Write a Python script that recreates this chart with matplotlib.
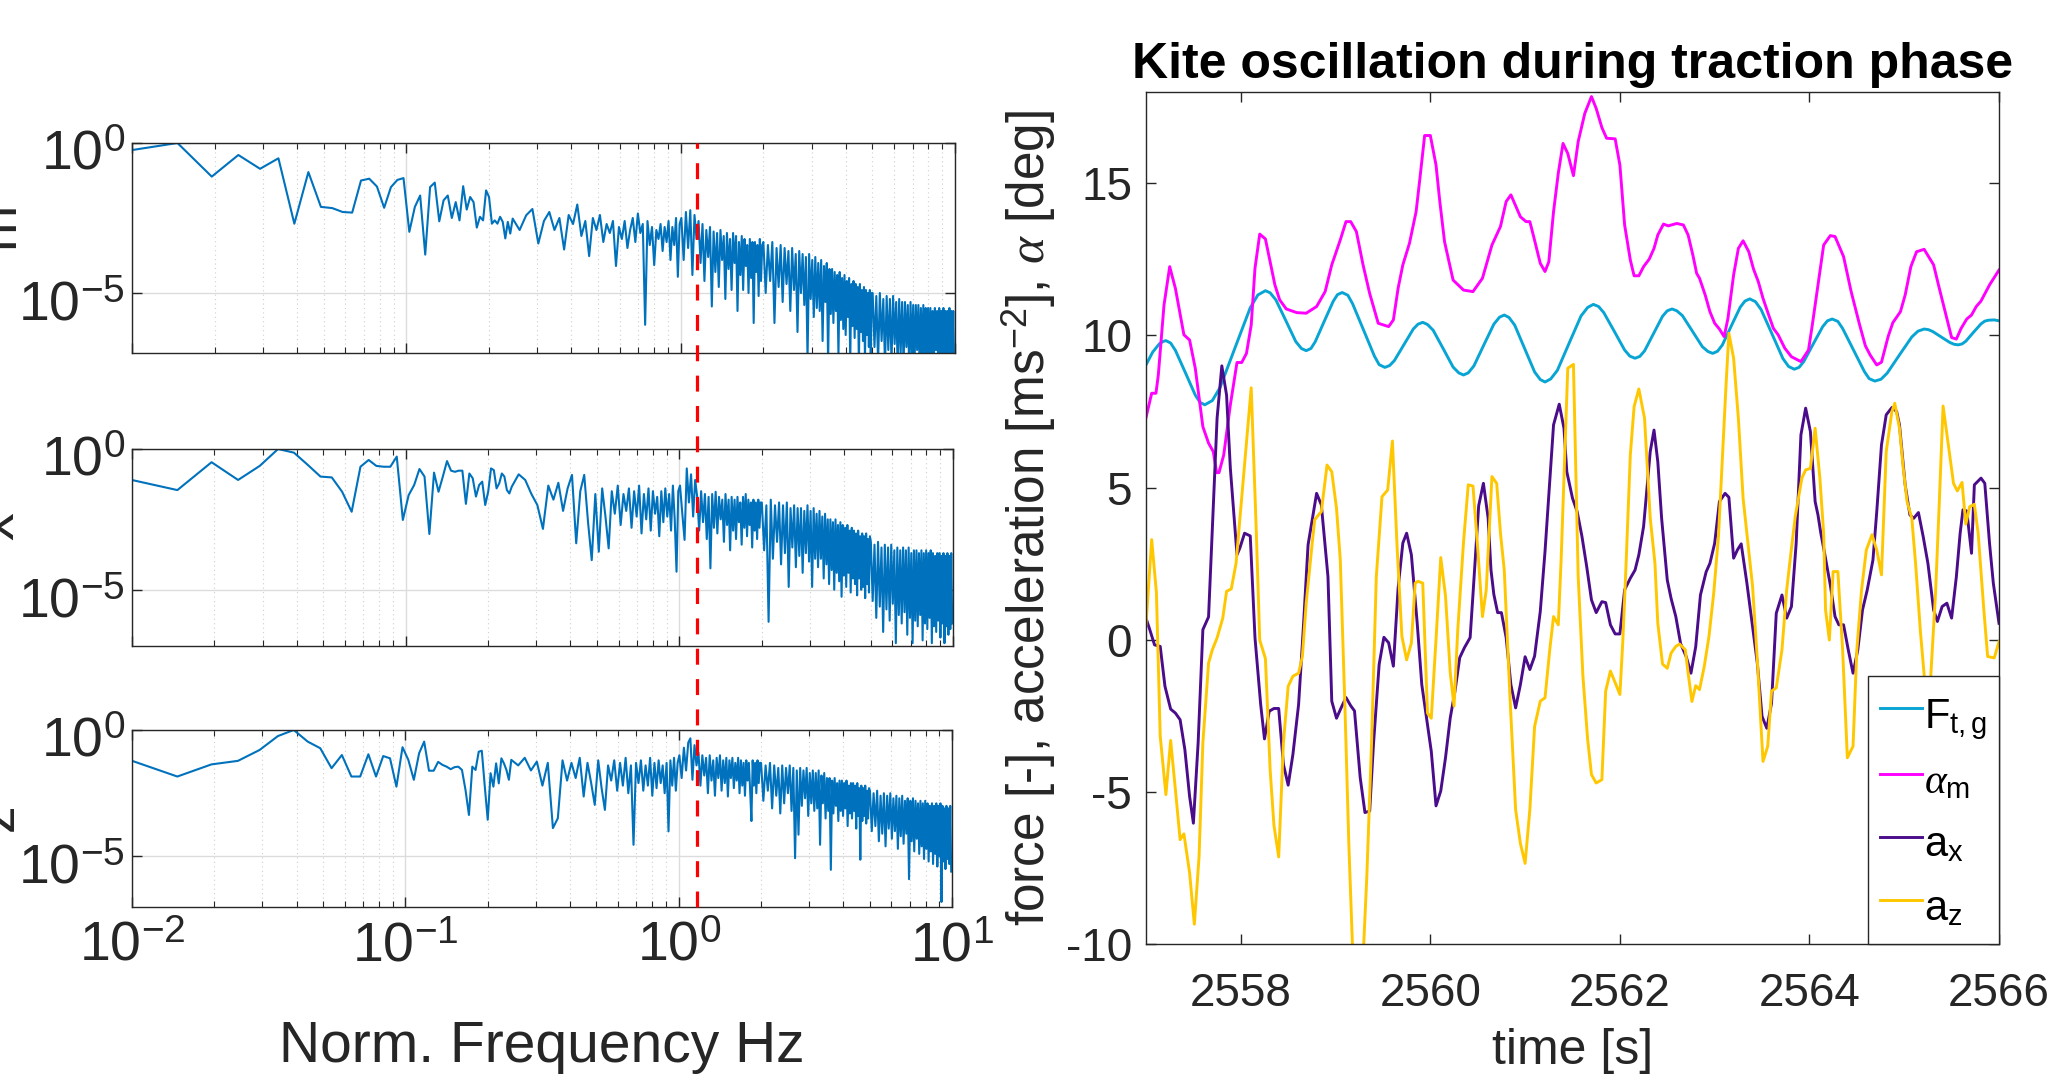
import numpy as np
import matplotlib
matplotlib.use('Agg')
import matplotlib.pyplot as plt
from matplotlib.lines import Line2D
from matplotlib import transforms
from matplotlib.ticker import FixedLocator, FixedFormatter, NullLocator, NullFormatter

plt.rcParams['font.family'] = ['Liberation Sans', 'DejaVu Sans']
plt.rcParams['mathtext.fontset'] = 'custom'
plt.rcParams['mathtext.rm'] = 'Liberation Sans'
plt.rcParams['mathtext.it'] = 'Liberation Serif:italic'
plt.rcParams['mathtext.bf'] = 'Liberation Sans:bold'
plt.rcParams['axes.unicode_minus'] = False

# ---------------- spectra (log10 of normalised amplitude) ----------------
df = 20 / 4096   # bin width [Hz]
f_mark = 1.15    # red marker frequency [Hz]

# bins 2..49, bins 50.. step 3, then 1-2 Hz step 4, 2-5 Hz step 8, 5-10 Hz step 16
psd_m_low = [-0.25, 0.0, -1.12, -0.40, -0.86, -0.51, -2.69, -0.97, -2.13, -2.17,
             -2.30, -2.32, -1.25, -1.19, -1.45, -2.16, -1.47, -1.23, -1.17, -2.96,
             -2.13, -1.75, -3.72, -1.47, -1.32, -2.61, -1.91, -1.75, -2.50, -1.97,
             -2.58, -1.44, -2.22, -1.80, -1.97, -2.82, -2.46, -2.58, -1.58, -1.80,
             -2.69, -2.58, -2.69, -2.46, -2.63, -3.18, -2.63, -3.02]
psd_m_mid = [-2.52, -2.9, -2.41, -2.2, -3.35, -2.6, -2.3, -2.9, -2.5, -3.55,
             -2.4, -2.7, -2.05, -3.1, -2.6, -3.77, -2.5, -2.9, -2.4, -3.3,
             -2.7, -3.0, -2.6, -4.1, -2.8, -3.2, -2.6, -3.5, -2.9, -2.5,
             -3.3, -2.35, -3.0, -2.7, -6.06, -2.6, -3.4, -2.8, -4.07, -2.9,
             -3.2, -2.7, -3.6, -2.8, -3.3, -2.6, -3.9, -2.8, -3.4, -2.5, -4.46, -2.7]
psd_m_hi1 = [-2.5, -3.9, -2.3, -3.5, -2.24, -4.4, -2.4, -3.2, -2.6, -4.0,
             -2.7, -4.6, -2.9, -3.8, -2.8, -5.45, -2.95, -4.3, -3.0, -4.8,
             -2.9, -3.9, -3.1, -5.2, -3.0, -4.2, -3.2, -4.9, -3.0, -4.0,
             -3.1, -5.6, -3.3, -4.4, -3.1, -4.9, -3.2, -4.1, -3.4, -5.0,
             -3.2, -4.5, -3.3, -6.0, -3.3, -4.3, -3.4, -5.1, -3.2, -4.6, -3.4]
psd_m_hi2 = [-3.3, -5.0, -3.4, -4.6, -3.3, -6.0, -3.5, -4.8, -3.4, -5.3,
             -3.5, -4.7, -3.6, -5.6, -3.5, -4.9, -3.7, -6.3, -3.6, -5.0,
             -3.7, -5.4, -3.8, -7.2, -3.7, -5.2, -3.9, -5.8, -3.8, -5.5,
             -4.0, -5.6, -3.9, -6.6, -4.1, -5.3, -4.0, -7.3, -4.2, -5.7,
             -4.2, -6.0, -4.3, -5.6, -4.4, -7.1, -4.3, -5.9, -4.5, -6.2,
             -4.4, -6.4, -4.6, -5.8, -4.5, -7.3, -4.7, -6.1, -4.6, -6.5,
             -4.7, -6.2, -4.8, -7.4, -4.7, -6.3, -4.9, -6.6, -4.8, -7.2,
             -4.9, -6.4, -5.0, -6.8, -4.9, -7.3, -5.0]
psd_m_hi3 = [-5.0, -6.8, -5.1, -7.3, -5.0, -6.6, -5.2, -7.4, -5.1, -6.9,
             -5.2, -7.3, -5.1, -6.7, -5.3, -7.5, -5.2, -7.0, -5.3, -7.4,
             -5.3, -6.8, -5.4, -7.5, -5.3, -7.1, -5.4, -7.4, -5.4, -6.9,
             -5.4, -7.5, -5.5, -7.2, -5.4, -7.5, -5.5, -7.0, -5.5, -7.4,
             -5.5, -7.2, -5.6, -7.5, -5.5, -6.9, -5.6, -7.4, -5.5, -7.5,
             -5.6, -7.1, -5.5, -7.5, -5.6, -7.3, -5.6, -7.0, -5.5, -7.5,
             -5.6, -7.2, -5.6, -7.5]

psd_x_low = [-1.08, -1.46, -0.47, -1.10, -0.60, 0.0, -0.13, -0.57, -0.98, -1.01,
             -1.52, -2.23, -0.63, -0.39, -0.60, -0.63, -0.63, -0.27, -2.52, -1.64,
             -1.28, -0.71, -0.98, -3.02, -0.84, -1.52, -0.98, -0.43, -0.77, -0.81,
             -0.77, -0.77, -1.95, -0.87, -1.04, -1.69, -1.28, -1.16, -1.99, -1.52,
             -0.69, -0.75, -1.40, -1.22, -0.87, -0.98, -1.46, -1.58]
psd_x_mid = [-1.34, -0.9, -1.1, -1.6, -1.99, -2.84, -1.3, -1.8, -1.2, -2.2,
             -1.4, -0.92, -3.35, -1.5, -0.92, -2.6, -3.95, -1.6, -3.65, -1.4,
             -2.4, -3.53, -1.5, -2.3, -1.3, -2.7, -1.6, -2.2, -1.4, -2.8,
             -1.5, -2.4, -1.3, -3.0, -1.6, -2.5, -1.4, -2.9, -1.5, -2.3,
             -1.7, -3.1, -1.5, -2.6, -1.4, -2.4, -1.6, -2.9, -1.3, -2.5, -4.36, -1.5]
psd_x_hi1 = [-1.3, -2.3, -3.23, -0.69, -1.9, -0.9, -2.4, -1.1, -1.7, -2.9,
             -1.5, -2.6, -1.6, -3.2, -1.7, -4.24, -1.6, -2.8, -1.52, -3.0,
             -1.7, -2.5, -1.8, -3.3, -1.6, -2.7, -1.8, -3.6, -1.7, -2.9,
             -1.8, -3.2, -1.7, -2.6, -1.9, -3.4, -1.7, -2.8, -1.6, -3.1,
             -1.8, -2.7, -1.9, -3.5, -1.8, -2.9, -1.9, -3.2, -1.8, -2.8, -1.9]
psd_x_hi2 = [-1.9, -3.6, -2.0, -6.14, -1.8, -3.9, -2.0, -3.3, -1.9, -4.1,
             -2.0, -3.7, -1.9, -4.9, -2.1, -3.5, -2.0, -4.2, -2.1, -3.8,
             -2.1, -4.4, -2.2, -3.7, -2.0, -4.0, -2.2, -4.9, -2.1, -3.9,
             -2.3, -4.2, -2.2, -3.9, -2.4, -4.6, -2.3, -4.1, -2.5, -4.8,
             -2.5, -4.3, -2.6, -5.0, -2.5, -4.4, -2.7, -4.7, -2.6, -5.25,
             -2.7, -4.5, -2.8, -4.9, -2.7, -4.4, -2.9, -5.1, -2.8, -4.6,
             -2.9, -4.8, -3.0, -5.2, -2.9, -4.6, -3.1, -5.0, -3.0, -4.9,
             -3.1, -5.3, -3.0, -4.8, -3.2, -5.1, -3.1]
psd_x_hi3 = [-3.3, -5.4, -3.4, -6.0, -3.3, -5.6, -3.5, -6.5, -3.4, -5.7,
             -3.5, -6.1, -3.4, -5.5, -3.6, -6.9, -3.5, -5.9, -3.6, -6.2,
             -3.5, -5.8, -3.6, -6.6, -3.5, -6.0, -3.7, -6.9, -3.6, -6.1,
             -3.6, -6.3, -3.7, -5.9, -3.6, -6.8, -3.7, -6.2, -3.6, -6.4,
             -3.7, -6.0, -3.6, -6.9, -3.7, -6.3, -3.8, -6.5, -3.7, -6.1,
             -3.7, -6.7, -3.8, -6.2, -3.7, -6.9, -3.8, -6.3, -3.7, -6.6,
             -3.8, -6.4, -3.7, -6.2]

psd_z_low = [-1.18, -1.84, -1.36, -1.22, -0.79, -0.24, 0.0, -0.46, -0.72, -1.51,
             -0.99, -1.84, -1.84, -0.96, -1.84, -1.03, -1.12, -2.24, -0.68, -1.18,
             -1.97, -0.92, -0.46, -1.61, -1.61, -1.26, -1.38, -1.45, -1.55, -1.47,
             -1.45, -1.58, -2.37, -3.36, -1.45, -1.58, -0.86, -0.82, -2.24, -3.55,
             -1.71, -2.24, -1.32, -2.11, -1.12, -1.32, -1.58, -1.97]
psd_z_mid = [-1.18, -1.4, -1.1, -1.6, -1.25, -2.2, -1.3, -3.88, -3.49, -1.2,
             -2.0, -1.3, -1.9, -1.1, -2.63, -1.3, -2.1, -2.96, -1.2, -2.3,
             -3.16, -1.4, -2.0, -1.2, -2.4, -1.3, -2.2, -1.1, -2.5, -1.4,
             -4.54, -1.3, -2.1, -1.2, -2.4, -1.4, -2.2, -1.1, -2.6, -1.3,
             -2.3, -1.2, -2.1, -1.4, -2.5, -1.3, -4.01, -1.2, -2.2, -1.1, -2.4, -1.3]
psd_z_hi1 = [-1.0, -1.9, -0.7, -1.6, -0.5, -0.33, -1.97, -0.6, -1.4, -0.9,
             -2.2, -1.0, -1.8, -1.1, -2.5, -1.0, -2.0, -1.2, -2.6, -1.1,
             -1.9, -1.0, -2.4, -1.2, -2.1, -1.1, -2.63, -1.2, -1.9, -1.1,
             -2.3, -1.3, -2.0, -1.1, -2.5, -1.2, -2.2, -1.3, -2.6, -1.2,
             -2.0, -1.3, -2.4, -3.6, -1.2, -2.2, -1.3, -2.5, -1.2, -2.1, -1.3]
psd_z_hi2 = [-1.3, -2.8, -1.4, -2.4, -1.3, -3.1, -1.4, -2.6, -1.5, -3.3,
             -1.4, -2.9, -1.5, -2.5, -1.4, -3.2, -1.5, -5.07, -1.6, -4.14,
             -1.5, -3.0, -1.6, -2.7, -1.5, -3.4, -1.7, -2.9, -1.6, -3.2,
             -1.7, -3.1, -1.6, -4.54, -1.8, -2.9, -1.7, -3.5, -1.9, -3.2,
             -1.9, -5.53, -2.0, -3.3, -1.9, -3.0, -2.1, -3.6, -2.0, -3.2,
             -2.0, -3.4, -2.1, -3.1, -2.0, -3.8, -2.2, -3.3, -2.1, -3.5,
             -2.1, -3.2, -2.2, -3.9, -2.1, -3.4, -2.3, -5.13, -2.2, -3.6,
             -2.3, -3.4, -2.2, -3.7, -2.4, -3.5, -2.3]
psd_z_hi3 = [-2.4, -4.0, -2.5, -3.8, -2.4, -4.4, -2.6, -4.1, -2.5, -4.6,
             -2.6, -3.9, -2.5, -4.3, -2.7, -4.0, -2.6, -4.7, -2.7, -4.2,
             -2.6, -4.5, -2.8, -4.1, -2.7, -5.9, -2.8, -4.4, -2.7, -4.8,
             -2.8, -4.3, -2.9, -4.9, -2.8, -4.6, -2.9, -5.1, -2.8, -4.7,
             -2.9, -5.2, -3.0, -4.8, -2.9, -5.3, -3.0, -4.9, -2.9, -5.4,
             -3.0, -5.0, -2.9, -6.8, -3.0, -5.2, -3.1, -5.5, -3.0, -5.1,
             -3.1, -5.3, -3.0, -5.6]

# ---------------- time series ----------------
t_force = [2557.00, 2557.07, 2557.14, 2557.18, 2557.21, 2557.26, 2557.31, 2557.415, 2557.52, 2557.57,
           2557.62, 2557.70, 2557.78, 2557.94, 2558.10, 2558.18, 2558.26, 2558.31, 2558.37, 2558.475,
           2558.58, 2558.64, 2558.69, 2558.74, 2558.785, 2558.88, 2558.975, 2559.02, 2559.07, 2559.13,
           2559.18, 2559.295, 2559.41, 2559.46, 2559.52, 2559.57, 2559.62, 2559.72, 2559.82, 2559.87,
           2559.92, 2559.97, 2560.03, 2560.135, 2560.24, 2560.30, 2560.35, 2560.40, 2560.46, 2560.565,
           2560.67, 2560.73, 2560.78, 2560.83, 2560.89, 2560.995, 2561.10, 2561.16, 2561.21, 2561.27,
           2561.34, 2561.465, 2561.59, 2561.66, 2561.72, 2561.775, 2561.83, 2561.94, 2562.05, 2562.105,
           2562.16, 2562.21, 2562.26, 2562.355, 2562.45, 2562.50, 2562.55, 2562.60, 2562.66, 2562.765,
           2562.87, 2562.93, 2562.98, 2563.03, 2563.08, 2563.175, 2563.27, 2563.32, 2563.37, 2563.43,
           2563.49, 2563.605, 2563.72, 2563.78, 2563.84, 2563.89, 2563.94, 2564.04, 2564.14, 2564.19,
           2564.24, 2564.30, 2564.35, 2564.465, 2564.58, 2564.63, 2564.69, 2564.755, 2564.82, 2564.95,
           2565.08, 2565.145, 2565.21, 2565.255, 2565.30, 2565.39, 2565.48, 2565.525, 2565.57, 2565.61,
           2565.65, 2565.73, 2565.81, 2565.85, 2565.89, 2565.95, 2566.00]
v_force = [9.03, 9.45, 9.72, 9.80, 9.83, 9.75, 9.51, 8.78, 8.04, 7.80,
           7.72, 7.86, 8.28, 9.60, 10.91, 11.33, 11.47, 11.40, 11.17, 10.49,
           9.80, 9.57, 9.50, 9.57, 9.79, 10.46, 11.12, 11.34, 11.41, 11.32,
           11.04, 10.18, 9.32, 9.04, 8.95, 9.01, 9.17, 9.69, 10.21, 10.37,
           10.43, 10.36, 10.17, 9.57, 8.96, 8.77, 8.70, 8.77, 9.00, 9.69,
           10.37, 10.60, 10.67, 10.59, 10.34, 9.57, 8.80, 8.55, 8.47, 8.57,
           8.85, 9.75, 10.64, 10.92, 11.02, 10.95, 10.75, 10.14, 9.52, 9.32,
           9.25, 9.31, 9.49, 10.06, 10.63, 10.81, 10.87, 10.81, 10.65, 10.14,
           9.63, 9.47, 9.41, 9.48, 9.68, 10.31, 10.93, 11.13, 11.20, 11.11,
           10.85, 10.05, 9.24, 8.98, 8.89, 8.95, 9.14, 9.72, 10.29, 10.48,
           10.54, 10.46, 10.23, 9.52, 8.81, 8.58, 8.50, 8.56, 8.76, 9.36,
           9.95, 10.14, 10.21, 10.19, 10.13, 9.95, 9.77, 9.71, 9.69, 9.72,
           9.81, 10.10, 10.38, 10.47, 10.50, 10.51, 10.48]

t_alpha = [2557.00, 2557.06, 2557.105, 2557.13, 2557.19, 2557.25, 2557.31, 2557.40, 2557.46, 2557.52,
           2557.60, 2557.66, 2557.71, 2557.745, 2557.77, 2557.82, 2557.89, 2557.96, 2558.01, 2558.06,
           2558.11, 2558.15, 2558.20, 2558.26, 2558.31, 2558.36, 2558.41, 2558.48, 2558.59, 2558.69,
           2558.80, 2558.89, 2558.96, 2559.05, 2559.11, 2559.16, 2559.22, 2559.29, 2559.36, 2559.45,
           2559.56, 2559.61, 2559.66, 2559.71, 2559.78, 2559.85, 2559.89, 2559.94, 2560.00, 2560.06,
           2560.10, 2560.15, 2560.24, 2560.35, 2560.45, 2560.55, 2560.65, 2560.74, 2560.80, 2560.85,
           2560.95, 2561.01, 2561.05, 2561.09, 2561.16, 2561.21, 2561.25, 2561.30, 2561.35, 2561.40,
           2561.45, 2561.51, 2561.56, 2561.63, 2561.70, 2561.75, 2561.81, 2561.86, 2561.95, 2562.00,
           2562.05, 2562.11, 2562.15, 2562.20, 2562.25, 2562.31, 2562.36, 2562.40, 2562.46, 2562.51,
           2562.60, 2562.67, 2562.72, 2562.77, 2562.81, 2562.84, 2562.90, 2562.95, 2563.00, 2563.05,
           2563.10, 2563.14, 2563.20, 2563.25, 2563.30, 2563.36, 2563.41, 2563.46, 2563.51, 2563.57,
           2563.62, 2563.67, 2563.74, 2563.81, 2563.91, 2563.99, 2564.03, 2564.09, 2564.15, 2564.22,
           2564.27, 2564.36, 2564.44, 2564.53, 2564.59, 2564.64, 2564.71, 2564.76, 2564.83, 2564.88,
           2564.96, 2565.01, 2565.07, 2565.13, 2565.21, 2565.31, 2565.37, 2565.45, 2565.50, 2565.55,
           2565.60, 2565.66, 2565.71, 2565.76, 2565.81, 2565.90, 2566.00]
v_alpha = [7.30, 8.10, 8.10, 8.70, 11.00, 12.26, 11.55, 10.02, 9.85, 8.92,
           7.00, 6.46, 6.18, 5.49, 5.49, 6.07, 7.72, 9.11, 9.11, 9.41,
           10.34, 12.21, 13.33, 13.17, 12.42, 11.66, 11.17, 10.87, 10.75, 10.73,
           10.95, 11.44, 12.32, 13.14, 13.74, 13.74, 13.41, 12.32, 11.38, 10.40,
           10.29, 10.51, 11.55, 12.32, 13.03, 14.07, 15.16, 16.57, 16.57, 15.60,
           14.40, 13.08, 11.82, 11.49, 11.44, 11.88, 12.97, 13.58, 14.40, 14.62,
           13.90, 13.74, 13.74, 13.25, 12.37, 12.10, 12.42, 14.07, 15.33, 16.31,
           15.98, 15.25, 16.37, 17.30, 17.85, 17.46, 16.83, 16.48, 16.46, 15.60,
           13.63, 12.48, 11.96, 11.96, 12.26, 12.51, 12.86, 13.30, 13.66, 13.60,
           13.68, 13.63, 13.30, 12.64, 12.04, 11.88, 11.33, 10.78, 10.40, 10.21,
           9.96, 10.56, 11.99, 12.86, 13.11, 12.75, 12.18, 11.77, 11.22, 10.67,
           10.23, 10.02, 9.58, 9.30, 9.14, 9.52, 10.34, 11.66, 12.97, 13.28,
           13.25, 12.59, 11.44, 10.34, 9.66, 9.36, 9.03, 9.12, 9.96, 10.42,
           10.78, 11.33, 12.26, 12.75, 12.83, 12.32, 11.55, 10.56, 9.93, 9.88,
           10.23, 10.54, 10.67, 10.95, 11.13, 11.66, 12.15]

t_ax = [2557.00, 2557.04, 2557.09, 2557.15, 2557.20, 2557.26, 2557.31, 2557.36, 2557.41, 2557.46,
        2557.50, 2557.55, 2557.60, 2557.66, 2557.75, 2557.80, 2557.85, 2557.89, 2557.96, 2557.99,
        2558.04, 2558.10, 2558.15, 2558.21, 2558.25, 2558.30, 2558.35, 2558.40, 2558.45, 2558.50,
        2558.55, 2558.61, 2558.66, 2558.71, 2558.80, 2558.85, 2558.92, 2558.96, 2559.01, 2559.06,
        2559.11, 2559.16, 2559.20, 2559.26, 2559.31, 2559.36, 2559.40, 2559.46, 2559.51, 2559.56,
        2559.61, 2559.66, 2559.71, 2559.75, 2559.80, 2559.86, 2559.91, 2559.96, 2560.01, 2560.06,
        2560.11, 2560.16, 2560.21, 2560.26, 2560.31, 2560.36, 2560.42, 2560.45, 2560.51, 2560.56,
        2560.61, 2560.64, 2560.67, 2560.71, 2560.75, 2560.80, 2560.85, 2560.90, 2560.95, 2561.00,
        2561.05, 2561.10, 2561.16, 2561.21, 2561.30, 2561.36, 2561.41, 2561.44, 2561.50, 2561.55,
        2561.60, 2561.65, 2561.70, 2561.75, 2561.81, 2561.85, 2561.90, 2561.95, 2562.00, 2562.05,
        2562.11, 2562.16, 2562.20, 2562.25, 2562.32, 2562.36, 2562.40, 2562.44, 2562.50, 2562.54,
        2562.59, 2562.64, 2562.70, 2562.75, 2562.80, 2562.85, 2562.91, 2562.95, 2563.00, 2563.05,
        2563.11, 2563.15, 2563.20, 2563.24, 2563.28, 2563.34, 2563.40, 2563.45, 2563.50, 2563.55,
        2563.60, 2563.65, 2563.71, 2563.76, 2563.81, 2563.86, 2563.91, 2563.96, 2564.01, 2564.06,
        2564.09, 2564.12, 2564.16, 2564.22, 2564.27, 2564.31, 2564.36, 2564.41, 2564.46, 2564.51,
        2564.56, 2564.61, 2564.67, 2564.71, 2564.76, 2564.81, 2564.87, 2564.92, 2564.95, 2565.01,
        2565.06, 2565.10, 2565.15, 2565.20, 2565.25, 2565.31, 2565.35, 2565.40, 2565.45, 2565.50,
        2565.55, 2565.59, 2565.62, 2565.66, 2565.71, 2565.74, 2565.81, 2565.85, 2565.90, 2565.94,
        2566.00]
v_ax = [0.71, 0.33, -0.17, -0.22, -1.53, -2.28, -2.41, -2.63, -3.61, -5.15,
        -6.03, -3.39, 0.33, 0.75, 7.28, 9.00, 8.04, 5.63, 2.79, 3.01,
        3.50, 3.41, 0.06, -2.13, -3.26, -2.35, -2.26, -2.26, -4.10, -4.78,
        -3.77, -2.13, 0.39, 3.12, 4.81, 4.43, 2.07, -2.02, -2.58, -2.23,
        -1.90, -2.17, -2.34, -4.53, -5.68, -5.63, -3.44, -0.81, 0.08, -0.10,
        -0.87, 1.70, 3.18, 3.50, 2.79, 0.60, -1.48, -2.57, -3.67, -5.46,
        -4.97, -3.88, -2.57, -1.69, -0.59, -0.26, 0.07, 1.49, 4.40, 5.14,
        3.99, 2.29, 1.49, 0.89, 0.89, 0.07, -1.48, -2.24, -1.48, -0.56,
        -0.98, -0.54, 0.93, 2.90, 7.06, 7.74, 6.95, 5.52, 4.65, 4.20,
        3.39, 2.40, 1.31, 0.89, 1.25, 1.22, 0.49, 0.19, 0.19, 1.64,
        2.02, 2.29, 2.79, 3.72, 6.18, 6.89, 5.85, 4.00, 1.96, 1.36,
        0.76, -0.12, -0.56, -1.10, -0.23, 1.47, 2.23, 2.51, 3.17, 4.54,
        4.81, 4.68, 2.68, 2.95, 3.15, 1.86, 0.43, -0.77, -2.52, -2.91,
        -2.09, 0.87, 1.47, 0.71, 1.09, 3.17, 6.73, 7.61, 6.84, 4.54,
        4.10, 3.50, 2.84, 1.80, 0.76, 0.49, 0.49, -0.34, -1.10, -0.34,
        0.98, 1.64, 2.62, 4.20, 6.40, 7.39, 7.63, 7.50, 7.06, 5.09,
        4.10, 3.99, 4.18, 3.39, 2.51, 0.98, 0.60, 1.09, 1.20, 0.71,
        2.07, 3.50, 4.27, 4.23, 2.84, 5.09, 5.31, 5.14, 3.17, 1.86,
        0.54]

t_az = [2557.00, 2557.06, 2557.11, 2557.15, 2557.21, 2557.26, 2557.31, 2557.36, 2557.40, 2557.46,
        2557.51, 2557.56, 2557.60, 2557.66, 2557.70, 2557.75, 2557.81, 2557.85, 2557.90, 2557.95,
        2558.00, 2558.11, 2558.16, 2558.20, 2558.26, 2558.31, 2558.35, 2558.40, 2558.45, 2558.50,
        2558.55, 2558.61, 2558.65, 2558.69, 2558.75, 2558.78, 2558.82, 2558.85, 2558.91, 2558.96,
        2559.01, 2559.05, 2559.10, 2559.14, 2559.18, 2559.29, 2559.33, 2559.38, 2559.43, 2559.49,
        2559.55, 2559.60, 2559.65, 2559.70, 2559.75, 2559.80, 2559.84, 2559.87, 2559.92, 2559.97,
        2560.01, 2560.06, 2560.11, 2560.16, 2560.21, 2560.25, 2560.29, 2560.35, 2560.40, 2560.45,
        2560.50, 2560.55, 2560.59, 2560.65, 2560.70, 2560.74, 2560.78, 2560.84, 2560.90, 2560.95,
        2561.00, 2561.05, 2561.10, 2561.16, 2561.21, 2561.26, 2561.30, 2561.35, 2561.38, 2561.45,
        2561.51, 2561.56, 2561.61, 2561.66, 2561.70, 2561.75, 2561.81, 2561.85, 2561.90, 2561.95,
        2562.00, 2562.03, 2562.06, 2562.11, 2562.15, 2562.20, 2562.26, 2562.29, 2562.32, 2562.37,
        2562.40, 2562.45, 2562.50, 2562.54, 2562.59, 2562.63, 2562.69, 2562.72, 2562.76, 2562.80,
        2562.84, 2562.89, 2562.94, 2562.99, 2563.04, 2563.12, 2563.15, 2563.20, 2563.25, 2563.30,
        2563.35, 2563.40, 2563.45, 2563.51, 2563.56, 2563.60, 2563.65, 2563.71, 2563.76, 2563.80,
        2563.85, 2563.92, 2563.96, 2564.01, 2564.06, 2564.11, 2564.15, 2564.17, 2564.21, 2564.25,
        2564.30, 2564.35, 2564.40, 2564.46, 2564.50, 2564.55, 2564.60, 2564.66, 2564.71, 2564.76,
        2564.81, 2564.87, 2564.90, 2564.95, 2564.99, 2565.03, 2565.08, 2565.12, 2565.17, 2565.22,
        2565.28, 2565.33, 2565.37, 2565.41, 2565.47, 2565.52, 2565.56, 2565.61, 2565.65, 2565.69,
        2565.74, 2565.78, 2565.84, 2565.88, 2565.95, 2566.00]
v_az = [0.49, 3.29, 1.54, -3.17, -5.09, -3.31, -4.92, -6.57, -6.38, -7.66,
        -9.35, -7.12, -3.39, -0.77, -0.33, 0.06, 0.71, 1.59, 1.67, 2.51,
        4.30, 8.28, 3.90, -0.01, -0.62, -4.29, -6.10, -7.14, -3.39, -1.53,
        -1.20, -1.10, -0.55, 1.20, 3.06, 3.94, 4.10, 4.21, 5.74, 5.52,
        4.32, 2.62, -2.31, -6.70, -10.2, -10.5, -7.77, -3.39, 2.07, 4.70,
        4.92, 6.53, 3.00, 0.11, -0.66, -0.11, 1.86, 1.92, 1.86, -2.41,
        -2.58, 0.01, 2.70, 1.44, -1.08, -2.18, 0.35, 3.20, 5.09, 5.05,
        3.00, 0.76, 1.64, 5.36, 5.14, 3.50, 2.29, -1.86, -5.59, -6.69,
        -7.35, -5.59, -2.85, -2.02, -1.91, -0.33, 0.76, 0.49, 2.62, 8.92,
        9.05, 2.07, -1.20, -3.28, -4.43, -4.71, -4.60, -1.69, -1.03, -1.41,
        -1.80, -0.10, 2.07, 6.07, 7.66, 8.24, 7.28, 5.63, 4.00, 2.51,
        0.54, -0.80, -0.94, -0.44, -0.22, -0.14, -0.33, -1.10, -2.03, -1.51,
        -1.64, -0.88, 0.11, 1.53, 3.39, 8.37, 10.07, 9.25, 7.28, 4.65,
        3.20, 1.75, -0.66, -4.00, -3.50, -1.69, -1.58, -0.33, 1.64, 2.73,
        4.04, 5.31, 5.58, 5.63, 6.95, 5.31, 3.50, 0.98, -0.01, 2.24,
        2.24, -0.33, -3.88, -3.50, -0.33, 1.64, 2.95, 3.45, 2.95, 2.13,
        6.18, 7.50, 7.77, 6.95, 5.63, 4.54, 3.99, 2.50, 0.30, -1.50,
        -1.20, 1.50, 4.50, 7.68, 6.29, 5.14, 4.89, 5.17, 3.80, 4.37,
        4.45, 3.50, 0.98, -0.55, -0.60, -0.06]

c_force, c_alpha, c_ax, c_az = '#08A5D4', '#FF00FF', '#4B0C8B', '#FFC700'
c_psd = '#0072BD'
ink = '#262626'

W, H = 2051, 1079


def box(x0, y0, x1, y1):
    return [x0 / W, 1 - y1 / H, (x1 - x0) / W, (y1 - y0) / H]


def spectrum(low, mid, hi1, hi2, hi3):
    k = np.concatenate([2 + np.arange(len(low)), 50 + 3 * np.arange(len(mid)),
                        206 + 4 * np.arange(len(hi1)), 410 + 8 * np.arange(len(hi2)),
                        1026 + 16 * np.arange(len(hi3))])
    a = np.concatenate([low, mid, hi1, hi2, hi3])
    return k * df, 10.0 ** a


def style_psd(ax, xlabels):
    ax.set_xscale('log')
    ax.set_yscale('log')
    ax.set_xlim(1e-2, 10)
    ax.set_ylim(1e-7, 1)
    ax.xaxis.set_major_locator(FixedLocator([1e-2, 1e-1, 1, 10]))
    ax.xaxis.set_major_formatter(FixedFormatter(['$10^{-2}$', '$10^{-1}$', '$10^{0}$', '$10^{1}$']))
    ax.xaxis.set_minor_locator(FixedLocator([m * d for d in (1e-2, 1e-1, 1) for m in range(2, 10)]))
    ax.xaxis.set_minor_formatter(NullFormatter())
    ax.yaxis.set_major_locator(FixedLocator([1e-5, 1]))
    ax.yaxis.set_major_formatter(FixedFormatter(['$10^{-5}$', '$10^{0}$']))
    ax.yaxis.set_minor_locator(NullLocator())
    ax.grid(True, which='major', color='#dcdcdc', lw=1.0)
    ax.grid(True, which='minor', axis='x', color='#cfcfcf', lw=0.8, ls=(0, (1, 3)))
    ax.set_axisbelow(True)
    ax.tick_params(which='both', direction='in', top=True, right=True, colors=ink,
                   labelsize=40, pad=5)
    ax.tick_params(which='major', length=7, width=1.0)
    ax.tick_params(which='minor', length=4, width=0.8)
    ax.tick_params(axis='x', pad=10)
    if not xlabels:
        ax.tick_params(axis='x', labelbottom=False)
    # MATLAB puts the exponent labels a little lower than matplotlib does
    shift = transforms.ScaledTranslation(0, -5 / 72, fig.dpi_scale_trans)
    for lab in ax.get_yticklabels():
        lab.set_transform(lab.get_transform() + shift)
    for s in ax.spines.values():
        s.set_color(ink)
        s.set_linewidth(1.0)


fig = plt.figure(figsize=(W / 100, H / 100), dpi=100)

ax_m = fig.add_axes(box(132, 143, 955, 353))
ax_x = fig.add_axes(box(132, 449, 953, 646))
ax_z = fig.add_axes(box(132, 730, 952, 907))

for ax, parts, lbl in [(ax_m, (psd_m_low, psd_m_mid, psd_m_hi1, psd_m_hi2, psd_m_hi3), False),
                       (ax_x, (psd_x_low, psd_x_mid, psd_x_hi1, psd_x_hi2, psd_x_hi3), False),
                       (ax_z, (psd_z_low, psd_z_mid, psd_z_hi1, psd_z_hi2, psd_z_hi3), True)]:
    f, a = spectrum(*parts)
    ax.plot(f, a, color=c_psd, lw=1.5)
    style_psd(ax, lbl)

ax_z.set_xlabel('Norm. Frequency Hz', fontsize=41, color=ink, labelpad=34)

# y labels of the spectra, cut by the figure edge as in the original
for ch, yc in [('m', 225), ('x', 526), ('z', 817)]:
    fig.text(13 / W, 1 - yc / H, ch, rotation=90, rotation_mode='anchor',
             ha='center', va='baseline', fontsize=40, color=ink)

# red marker line across the three spectra
trans = transforms.blended_transform_factory(ax_m.transData, fig.transFigure)
fig.add_artist(Line2D([f_mark, f_mark], [1 - 907 / H, 1 - 143 / H], transform=trans,
                      color='#FF0000', lw=2.3, ls=(0, (5, 4.5))))

# ---------------- right panel ----------------
ax_r = fig.add_axes(box(1146, 92, 1999, 944))
kw = dict(lw=2.1, solid_joinstyle='round')
ax_r.plot(t_force, v_force, color=c_force, label=r'F$_{\mathrm{t,g}}$', **kw)
ax_r.plot(t_alpha, v_alpha, color=c_alpha, label=r'$\alpha_{\mathrm{m}}$', **kw)
ax_r.plot(t_ax, v_ax, color=c_ax, label=r'a$_{\mathrm{x}}$', **kw)
ax_r.plot(t_az, v_az, color=c_az, label=r'a$_{\mathrm{z}}$', **kw)
ax_r.set_xlim(2557, 2566)
ax_r.set_ylim(-10, 18)
ax_r.set_xticks([2558, 2560, 2562, 2564, 2566])
ax_r.set_yticks([-10, -5, 0, 5, 10, 15])
ax_r.tick_params(direction='in', top=True, right=True, length=7, width=1.0,
                 colors=ink, labelsize=33, pad=10)
ax_r.tick_params(axis='x', pad=20)
for s in ax_r.spines.values():
    s.set_color(ink)
    s.set_linewidth(1.0)
ax_r.set_title('Kite oscillation during traction phase', fontsize=36,
               fontweight='bold', pad=10)
ax_r.set_xlabel('time [s]', fontsize=36, color=ink, labelpad=9)
ax_r.set_ylabel(r'force [-], acceleration [ms$^{\mathrm{-2}}$], $\alpha$ [deg]',
                fontsize=37, color=ink, labelpad=6)
leg = ax_r.legend(loc='lower right', borderaxespad=0, fancybox=False, framealpha=1,
                  edgecolor=ink, fontsize=30, handlelength=1.0, handletextpad=0.05,
                  handleheight=1.5, labelspacing=0.3, borderpad=0.3)
leg.get_frame().set_linewidth(1.0)

fig.savefig('out.png', dpi=100)
